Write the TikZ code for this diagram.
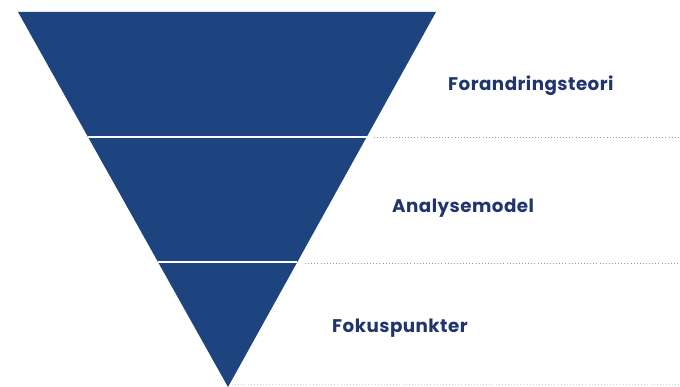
\documentclass[tikz,border=0pt]{standalone}
\usepackage{fontspec}
\setmainfont{Poppins}[LetterSpace=2.5]
\usetikzlibrary{calc}
\definecolor{tri}{RGB}{30,68,128}
\definecolor{lbl}{RGB}{32,52,110}
\definecolor{dotc}{RGB}{150,155,165}
\begin{document}
\begin{tikzpicture}[x=1pt,y=-1pt,
  lab/.style={anchor=west,text=lbl,font=\fontsize{18.3}{22}\selectfont\bfseries,inner sep=0pt},
  sep/.style={draw=white,line width=2pt},
  dotline/.style={draw=dotc,line width=0.9pt,dash pattern=on 0.9pt off 2.2pt}]
\useasboundingbox (0,0) rectangle (680,387);
\coordinate (tl) at (18,12);
\coordinate (tr) at (436,12);
\coordinate (ap) at (228,387);
\fill[tri] (tl) -- (tr) -- (ap) -- cycle;
\coordinate (l1) at ($(tl)!0.333!(ap)$);
\coordinate (r1) at ($(tr)!0.333!(ap)$);
\coordinate (l2) at ($(tl)!0.667!(ap)$);
\coordinate (r2) at ($(tr)!0.667!(ap)$);
\draw[sep] (l1) -- (r1);
\draw[sep] (l2) -- (r2);
\coordinate (d1a) at (374,137);
\coordinate (d1b) at (680,137);
\coordinate (d2a) at (305,263);
\coordinate (d2b) at (680,263);
\coordinate (d3a) at (232,384);
\coordinate (d3b) at (680,384);
\draw[dotline] (d1a) -- (d1b);
\draw[dotline] (d2a) -- (d2b);
\draw[dotline,draw=dotc!45] (d3a) -- (d3b);
\node[lab] (t1) at (448,86) {Forandringsteori};
\node[lab] (t2) at (392,208) {Analysemodel};
\node[lab] (t3) at (332,328) {Fokuspunkter};
\end{tikzpicture}
\end{document}
